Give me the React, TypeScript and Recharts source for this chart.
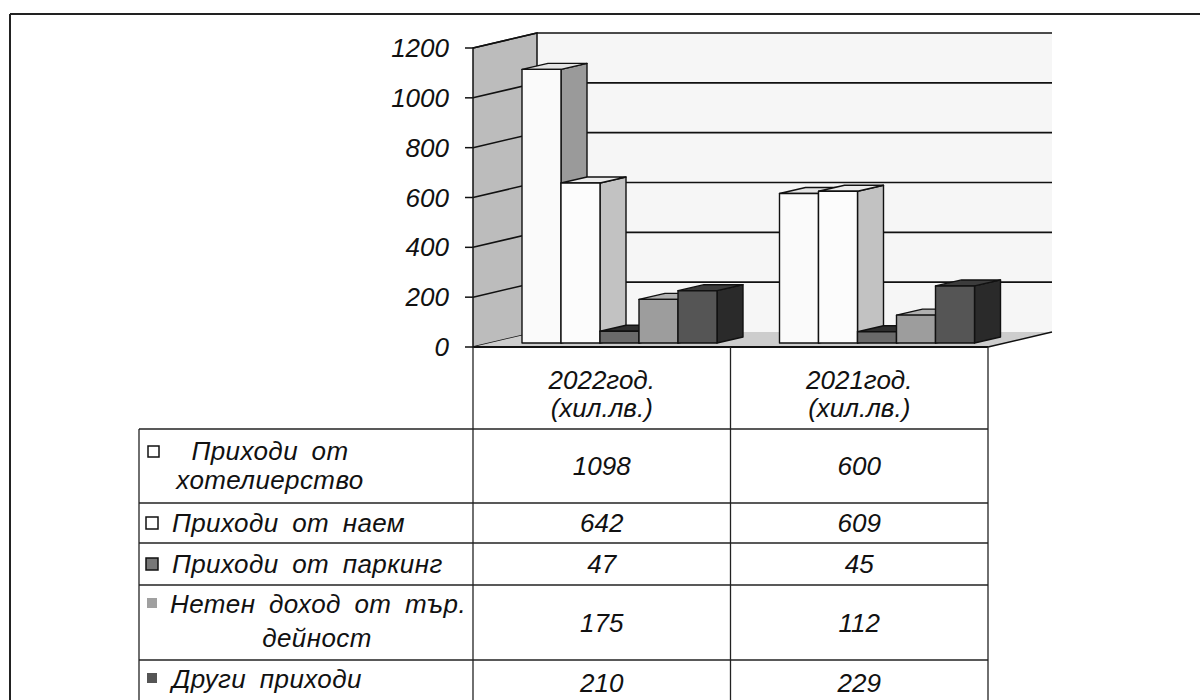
import React from 'react';
import { BarChart, Bar, XAxis, YAxis, ReferenceArea } from 'recharts';

// chart data
const years = ['2022год.', '2021год.'];
const unitLabel = '(хил.лв.)';
const hotelIncome = [1098, 600];
const rentIncome = [642, 609];
const parkingIncome = [47, 45];
const tradeIncome = [175, 112];
const otherIncome = [210, 229];
const yTicks = [0, 200, 400, 600, 800, 1000, 1200];

const seriesKeys = ['hotel', 'rent', 'parking', 'trade', 'other'];
const seriesValues = [hotelIncome, rentIncome, parkingIncome, tradeIncome, otherIncome];
const seriesLabels = [
  ['Приходи от', 'хотелиерство'],
  ['Приходи от наем'],
  ['Приходи от паркинг'],
  ['Нетен доход от тър.', 'дейност'],
  ['Други приходи'],
];

// looks
const seriesStyle = [
  { front: '#fafafa', side: '#9a9a9a', top: '#e4e4e4', marker: '#ffffff', markerStroke: true },
  { front: '#fcfcfc', side: '#c2c2c2', top: '#ececec', marker: '#ffffff', markerStroke: true },
  { front: '#6a6a6a', side: '#4a4a4a', top: '#2e2e2e', marker: '#777777', markerStroke: true },
  { front: '#9d9d9d', side: '#7e7e7e', top: '#b0b0b0', marker: '#a0a0a0', markerStroke: false },
  { front: '#555555', side: '#2a2a2a', top: '#3c3c3c', marker: '#555555', markerStroke: false },
];

const FONT = "'Liberation Sans', Arial, sans-serif";
const W = 1200;
const H = 700;
const PLOT_L = 473;
const PLOT_R = 988;
const PLOT_T = 48;
const PLOT_B = 347;
const Y_AXIS_W = 100;
const WALL_DX = 64;
const WALL_DY = -15;
const BAR_DX = 26;
const BAR_DY = -6;
const BAR_SHIFT_X = 18;
const BAR_SHIFT_Y = -4;

const chartData = years.map((year, i) => {
  const row: Record<string, string | number> = { year };
  seriesKeys.forEach((k, s) => {
    row[k] = seriesValues[s][i];
  });
  return row;
});

function Walls(props: any) {
  const { x, y, width, height } = props;
  const yMax = yTicks[yTicks.length - 1];
  const bottom = y + height;
  const pts = (arr: number[][]) => arr.map((p) => p.join(',')).join(' ');
  return (
    <g>
      <polygon
        points={pts([[x + WALL_DX, y + WALL_DY], [x + width + WALL_DX, y + WALL_DY], [x + width + WALL_DX, bottom + WALL_DY], [x + WALL_DX, bottom + WALL_DY]])}
        fill="#f6f6f6"
      />
      <polygon
        points={pts([[x, y], [x + WALL_DX, y + WALL_DY], [x + WALL_DX, bottom + WALL_DY], [x, bottom]])}
        fill="#bcbcbc"
        stroke="#111"
        strokeWidth={1.5}
      />
      <polygon
        points={pts([[x, bottom], [x + width, bottom], [x + width + WALL_DX, bottom + WALL_DY], [x + WALL_DX, bottom + WALL_DY]])}
        fill="#cdcdcd"
      />
      {yTicks.filter((v) => v > 0).map((v) => {
        const yy = bottom - (v / yMax) * height;
        return (
          <g key={v} stroke="#111" strokeWidth={1.6}>
            <line x1={x} y1={yy} x2={x + WALL_DX} y2={yy + WALL_DY} />
            <line x1={x + WALL_DX} y1={yy + WALL_DY} x2={x + width + WALL_DX} y2={yy + WALL_DY} />
          </g>
        );
      })}
      <line x1={x} y1={bottom} x2={x + width} y2={bottom} stroke="#111" strokeWidth={2} />
      <line x1={x + width} y1={bottom} x2={x + width + WALL_DX} y2={bottom + WALL_DY} stroke="#111" strokeWidth={1.5} />
    </g>
  );
}

function Bar3D(props: any) {
  const { width, height, st } = props;
  if (!height || height <= 0) return null;
  const x = props.x + BAR_SHIFT_X;
  const y = props.y + BAR_SHIFT_Y;
  const w = width;
  const h = height;
  const pts = (arr: number[][]) => arr.map((p) => p.join(',')).join(' ');
  return (
    <g stroke="#111" strokeWidth={1.4} strokeLinejoin="round">
      <polygon points={pts([[x + w, y], [x + w + BAR_DX, y + BAR_DY], [x + w + BAR_DX, y + h + BAR_DY], [x + w, y + h]])} fill={st.side} />
      <polygon points={pts([[x, y], [x + BAR_DX, y + BAR_DY], [x + w + BAR_DX, y + BAR_DY], [x + w, y]])} fill={st.top} />
      <rect x={x} y={y} width={w} height={h} fill={st.front} />
    </g>
  );
}

function YTick(props: any) {
  const { y, payload } = props;
  return (
    <g>
      <text x={PLOT_L - 24} y={y} textAnchor="end" dominantBaseline="central" fontFamily={FONT} fontStyle="italic" fontSize={26} fill="#111">
        {payload.value}
      </text>
      <line x1={PLOT_L - 8} y1={y} x2={PLOT_L} y2={y} stroke="#111" strokeWidth={1.5} />
    </g>
  );
}

// table layout
const TABLE_L = 139;
const rowTops = [429, 503, 543, 585, 660];
const TABLE_B = 706;
const labelLayout = [
  { marker: [148, 446, 11], lines: [[270, 451, 'middle'], [270, 480, 'middle']] },
  { marker: [146, 517, 12], lines: [[172, 523, 'start']] },
  { marker: [146, 558, 12], lines: [[172, 564, 'start']] },
  { marker: [147, 598, 10], lines: [[318, 604, 'middle'], [317, 638, 'middle']] },
  { marker: [147, 673, 10], lines: [[172, 679, 'start']] },
];

function DataTable() {
  const band = (PLOT_R - PLOT_L) / years.length;
  const colX = years.map((_, i) => PLOT_L + band * (i + 0.5));
  const textProps = { fontFamily: FONT, fontStyle: 'italic', fontSize: 26, fill: '#111', dominantBaseline: 'central' as const };
  const rowBottoms = [...rowTops.slice(1), TABLE_B];
  return (
    <svg width={W} height={H} style={{ position: 'absolute', left: 0, top: 0, pointerEvents: 'none' }}>
      <line x1={10} y1={14} x2={W} y2={14} stroke="#222" strokeWidth={2} />
      <line x1={10} y1={14} x2={10} y2={H} stroke="#222" strokeWidth={2} />
      {/* grid */}
      <g stroke="#222" strokeWidth={1.3}>
        <line x1={TABLE_L} y1={rowTops[0]} x2={TABLE_L} y2={TABLE_B} />
        {years.map((_, i) => (
          <line key={i} x1={PLOT_L + band * i} y1={PLOT_B} x2={PLOT_L + band * i} y2={TABLE_B} />
        ))}
        <line x1={PLOT_R} y1={PLOT_B} x2={PLOT_R} y2={TABLE_B} />
        {rowTops.map((ty) => (
          <line key={ty} x1={TABLE_L} y1={ty} x2={PLOT_R} y2={ty} />
        ))}
      </g>
      {years.map((yr, i) => (
        <g key={yr}>
          <text x={colX[i]} y={380} textAnchor="middle" {...textProps}>{yr}</text>
          <text x={colX[i]} y={408} textAnchor="middle" {...textProps}>{unitLabel}</text>
        </g>
      ))}
      {seriesKeys.map((k, s) => {
        const lay = labelLayout[s];
        const st = seriesStyle[s];
        const cy = (rowTops[s] + rowBottoms[s]) / 2;
        const [mx, my, ms] = lay.marker as number[];
        return (
          <g key={k}>
            <rect x={mx} y={my} width={ms} height={ms} fill={st.marker} stroke={st.markerStroke ? '#111' : 'none'} strokeWidth={1.5} />
            {seriesLabels[s].map((ln, j) => {
              const [lx, ly, anchor] = lay.lines[j] as [number, number, string];
              return (
                <text key={j} x={lx} y={ly} textAnchor={anchor as any} wordSpacing={6} letterSpacing={0.4} {...textProps}>{ln}</text>
              );
            })}
            {seriesValues[s].map((v, i) => (
              <text key={i} x={colX[i]} y={cy} textAnchor="middle" {...textProps}>{v}</text>
            ))}
          </g>
        );
      })}
    </svg>
  );
}

export default function App() {
  return (
    <div style={{ position: 'relative', width: W, height: H, background: '#fff', overflow: 'hidden' }}>
      <style>{'body{margin:0}'}</style>
      <BarChart
        width={W}
        height={H}
        data={chartData}
        barGap={0}
        margin={{ top: PLOT_T, right: W - PLOT_R, bottom: H - PLOT_B, left: PLOT_L - Y_AXIS_W }}
      >
        <XAxis dataKey="year" hide />
        <YAxis
          width={Y_AXIS_W}
          domain={[0, yTicks[yTicks.length - 1]]}
          ticks={yTicks}
          interval={0}
          axisLine={false}
          tickLine={false}
          tick={<YTick />}
        />
        <ReferenceArea y1={0} y2={yTicks[yTicks.length - 1]} shape={(p: any) => <Walls {...p} />} ifOverflow="visible" />
        {seriesKeys.map((k, s) => (
          <Bar
            key={k}
            dataKey={k}
            barSize={39}
            isAnimationActive={false}
            shape={(p: any) => <Bar3D {...p} st={seriesStyle[s]} />}
          />
        ))}
      </BarChart>
      <DataTable />
    </div>
  );
}
